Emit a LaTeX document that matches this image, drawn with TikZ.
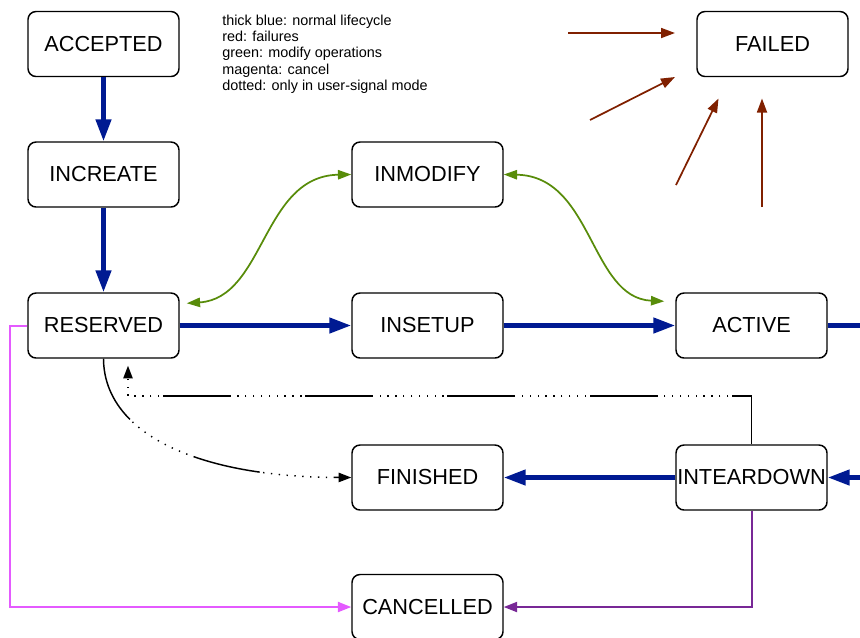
\documentclass[tikz,border=0pt]{standalone}
\usepackage{fontspec}
\setmainfont{Liberation Sans}
\usetikzlibrary{arrows.meta}
\definecolor{lcblue}{RGB}{0,26,146}
\definecolor{failred}{RGB}{128,32,0}
\definecolor{modgreen}{RGB}{88,140,10}
\definecolor{cancmag}{RGB}{228,90,255}
\definecolor{cancpur}{RGB}{120,40,150}
\begin{document}
\begin{tikzpicture}[x=0.75pt,y=-0.75pt,
  state/.style={draw, line width=1.1pt, rounded corners=6pt, minimum width=113.25pt,
    minimum height=48.75pt, inner sep=0.5pt, font=\fontsize{16.3}{19}\selectfont},
  legend/.style={inner sep=0pt, font=\fontsize{10.8}{13}\selectfont},
  life/.style={draw=lcblue, line width=3.4pt, -{Triangle[length=16.5pt,width=11.25pt]}},
  failarrow/.style={draw=failred, line width=1.3pt, -{Triangle[length=10.5pt,width=7.5pt]}},
  modarrow/.style={draw=modgreen, line width=1.3pt, {Triangle[length=10pt,width=7pt]}-{Triangle[length=10pt,width=7pt]}},
  cancarrow/.style={line width=1.5pt, -{Triangle[length=10pt,width=7.5pt]}},
  usersig/.style={draw=black, line width=1.1pt, -{Triangle[length=9.5pt,width=7pt]},
    dash pattern=on 51pt off 2.6pt on 1pt off 4.9pt on 1pt off 4.9pt on 1pt off 4.9pt
      on 1pt off 4.9pt on 1pt off 4.9pt on 1pt off 4.9pt on 1pt off 4.9pt on 1pt off 4.9pt
      on 1pt off 4.9pt}
]
\useasboundingbox (0,0) rectangle (860,637);
\clip (0,0) rectangle (860,637);

% states
\node[state] (acc) at (103.5,44) {ACCEPTED};
\node[state] (inc) at (103.5,174.5) {INCREATE};
\node[state] (res) at (103.5,325.5) {RESERVED};
\node[state] (inm) at (427.5,174.5) {INMODIFY};
\node[state] (ins) at (427.5,325.5) {INSETUP};
\node[state] (act) at (751.5,325.5) {ACTIVE};
\node[state] (fin) at (427.5,477.5) {FINISHED};
\node[state] (itd) at (751.5,477.5) {INTEARDOWN};
\node[state] (can) at (427.5,607) {CANCELLED};
\node[state] (fail) at (772.5,44) {FAILED};

% legend
\node[legend, anchor=base west] (lg1) at (222,25.7) {thick blue: normal lifecycle};
\node[legend, anchor=base west] (lg2) at (222,41.8) {red: failures};
\node[legend, anchor=base west] (lg3) at (222,57.9) {green: modify operations};
\node[legend, anchor=base west] (lg4) at (222,74) {magenta: cancel};
\node[legend, anchor=base west] (lg5) at (222,90.1) {dotted: only in user-signal mode};

% free ends
\coordinate (offA) at (875,325.5);
\coordinate (offB) at (875,477.5);
\coordinate (f1s) at (568,33);   \coordinate (f1e) at (675,33);
\coordinate (f2s) at (590,120);  \coordinate (f2e) at (675,77);
\coordinate (f3s) at (676,185);  \coordinate (f3e) at (718.5,98.5);
\coordinate (f4s) at (762,207);  \coordinate (f4e) at (762,98.5);
\coordinate (ret) at (128,396);
\coordinate (mcor) at (9.5,325.5);

% normal lifecycle
\draw[life] (acc) -- (inc);
\draw[life] (inc) -- (res);
\draw[life] (res) -- (ins);
\draw[life] (ins) -- (act);
\draw[life,-] (act.east) -- (offA);
\draw[life] (offB) -- (itd.east);
\draw[life] (itd) -- (fin);

% failures
\draw[failarrow] (f1s) -- (f1e);
\draw[failarrow] (f2s) -- (f2e);
\draw[failarrow] (f3s) -- (f3e);
\draw[failarrow] (f4s) -- (f4e);

% modify
\draw[modarrow] ([xshift=5.25pt,yshift=-8.25pt]res.north east) .. controls (265,298) and (262,176) .. (inm.west);
\draw[modarrow] (inm.east) .. controls (593,176) and (590,298) .. ([xshift=-8.25pt,yshift=-6.75pt]act.north west);

% cancel
\draw[cancarrow, draw=cancmag] (res.west) -- (mcor) |- (can.west);
\draw[cancarrow, draw=cancpur] (itd.south) |- (can.east);

% user-signal mode
\draw[usersig] (res.south) .. controls (104,430) and (190,477) .. (fin.west);
\draw[usersig, shorten >=5.25pt] (itd.north) |- (ret) -- (ret |- res.south);
\end{tikzpicture}
\end{document}
